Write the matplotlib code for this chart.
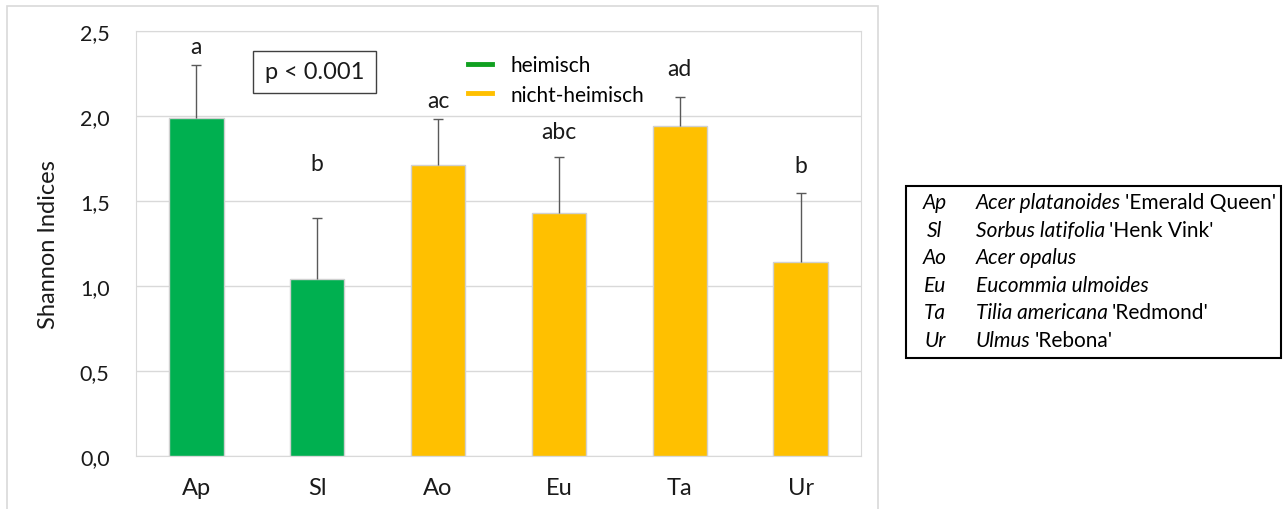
import matplotlib
matplotlib.use('Agg')
import matplotlib.pyplot as plt
from matplotlib.lines import Line2D
from matplotlib.patches import Rectangle
from matplotlib.ticker import FuncFormatter

plt.rcParams['font.family'] = ['Lato', 'DejaVu Sans']

# data
categories = ['Ap', 'Sl', 'Ao', 'Eu', 'Ta', 'Ur']
means = [1.99, 1.04, 1.71, 1.43, 1.94, 1.14]
sds = [0.31, 0.36, 0.27, 0.33, 0.17, 0.41]
native = [True, True, False, False, False, False]
letters = ['a', 'b', 'ac', 'abc', 'ad', 'b']
letter_y = [2.41, 1.72, 2.09, 1.91, 2.28, 1.71]
species_latin = ['Acer platanoides', 'Sorbus latifolia', 'Acer opalus',
                 'Eucommia ulmoides', 'Tilia americana', 'Ulmus']
cultivars = ["'Emerald Queen'", "'Henk Vink'", '', '', "'Redmond'", "'Rebona'"]

GREEN = '#00B050'
YELLOW = '#FFC000'
TXT = '#1a1a1a'

fig = plt.figure(figsize=(12.88, 5.10), dpi=100)
ax = fig.add_axes([136 / 1288, 1 - 457 / 510, 725 / 1288, 425 / 510])

# outer chart frame
fig.patches.append(Rectangle((7 / 1288, -0.01), 871 / 1288, 1 - 7 / 510 + 0.01,
                             transform=fig.transFigure, fill=False,
                             ec='#D9D9D9', lw=1.2))

x = range(len(categories))
colors = [GREEN if n else YELLOW for n in native]
ax.bar(x, means, width=0.45, color=colors, edgecolor='#D0D0D0', linewidth=1, zorder=3)
eb = ax.errorbar(x, means, yerr=[[0] * len(sds), sds], fmt='none', ecolor='#595959',
                 elinewidth=1, capsize=3.5, capthick=1, zorder=4)
eb[1][0].set_visible(False)  # no cap at the bar top

for xi, lab, ly in zip(x, letters, letter_y):
    ax.text(xi, ly, lab, ha='center', va='center', fontsize=16.5, color=TXT)

ax.set_xlim(-0.5, len(categories) - 0.5)
ax.set_ylim(0, 2.5)
ax.set_yticks([0, 0.5, 1.0, 1.5, 2.0, 2.5])
ax.yaxis.set_major_formatter(FuncFormatter(lambda v, p: f'{v:.1f}'.replace('.', ',')))
ax.set_xticks(list(x))
ax.set_xticklabels(categories)
ax.tick_params(axis='both', length=0, colors=TXT)
ax.tick_params(axis='y', pad=19, labelsize=15.5)
ax.tick_params(axis='x', pad=15, labelsize=17)
ax.grid(axis='y', color='#D9D9D9', lw=1, zorder=0)
for s in ax.spines.values():
    s.set_color('#D9D9D9')
ax.set_ylabel('Shannon Indices', fontsize=17, color=TXT)
ax.yaxis.set_label_coords(-0.106, 0.5)

# p-value box
ax.add_patch(Rectangle((0.161, 0.854), 0.17, 0.099, transform=ax.transAxes,
                       fill=False, ec='#404040', lw=1, zorder=5))
ax.text(0.246, 0.904, 'p < 0.001', transform=ax.transAxes, ha='center',
        va='center', fontsize=17, color=TXT)

handles = [Line2D([], [], color='#10A020', lw=3.5),
           Line2D([], [], color=YELLOW, lw=3.5)]
ax.legend(handles, ['heimisch', 'nicht-heimisch'], loc='upper left',
          bbox_to_anchor=(0.458, 0.944), frameon=False, fontsize=15,
          handlelength=1.15, handletextpad=0.87, labelspacing=0.47,
          borderpad=0, borderaxespad=0)

# species table on the right
fig.patches.append(Rectangle((906 / 1288, 1 - 359 / 510), 375 / 1288, 172 / 510,
                             transform=fig.transFigure, fill=False,
                             ec='black', lw=1.5))
for i, (ab, lat, cv) in enumerate(zip(categories, species_latin, cultivars)):
    yy = 1 - (203 + i * 27.6) / 510
    fig.text(935 / 1288, yy, ab, ha='center', va='center', fontsize=15,
             style='italic')
    t = fig.text(976 / 1288, yy, lat, ha='left', va='center', fontsize=15,
                 style='italic')
    if cv:
        ax.annotate(cv, xy=(1, 0), xycoords=t, xytext=(3, 0),
                    textcoords='offset points', ha='left', va='bottom',
                    fontsize=15, annotation_clip=False)

fig.savefig('out.png', dpi=100)
